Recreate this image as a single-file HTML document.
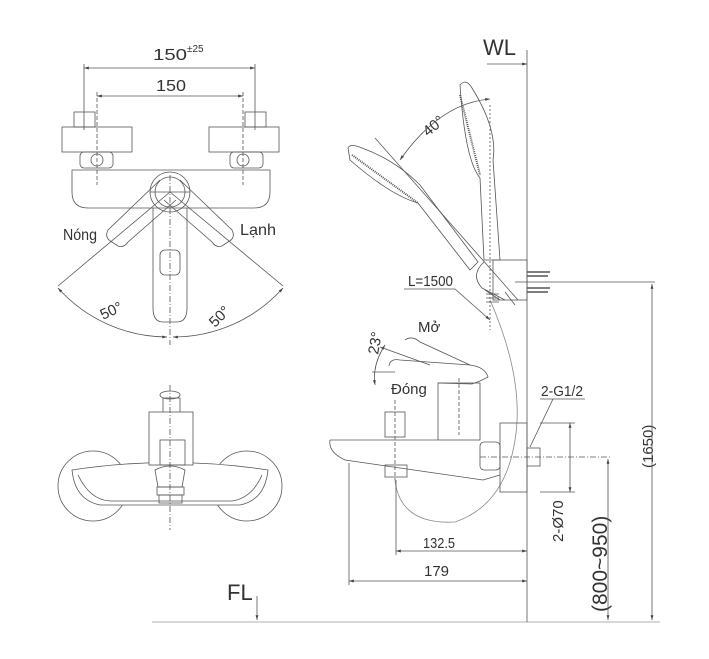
<!DOCTYPE html>
<html><head><meta charset="utf-8"><style>html,body{margin:0;padding:0;background:#fff}svg{display:block}</style></head>
<body>
<svg width="709" height="659" viewBox="0 0 709 659" xmlns="http://www.w3.org/2000/svg" font-family="Liberation Sans, sans-serif" fill="none" stroke="#555" stroke-width="0.8">
<defs><marker id="a" viewBox="0 0 10 10" refX="10" refY="5" markerWidth="8" markerHeight="6" orient="auto-start-reverse"><path d="M0,2 L10,5 L0,8z" fill="#444" stroke="none"/></marker></defs>
<g fill="#333" stroke="none" font-size="16">
<text x="153" y="60" textLength="34" lengthAdjust="spacingAndGlyphs">150</text><text x="187" y="52" font-size="10">±25</text>
<text x="156" y="91" textLength="30" lengthAdjust="spacingAndGlyphs">150</text>
<text x="63" y="240" textLength="34" lengthAdjust="spacingAndGlyphs">Nóng</text>
<text x="240" y="235" textLength="36" lengthAdjust="spacingAndGlyphs">Lạnh</text>
<text x="0" y="0" transform="translate(103,320) rotate(-25)" font-size="15">50°</text>
<text x="0" y="0" transform="translate(215,328) rotate(-45)" font-size="15">50°</text>
<text x="483" y="55" font-size="22">WL</text>
<text x="0" y="0" transform="translate(428,137) rotate(-40)" font-size="15">40°</text>
<text x="408" y="286" textLength="45" lengthAdjust="spacingAndGlyphs" font-size="15">L=1500</text>
<text x="418" y="332" font-size="15">Mở</text>
<text x="0" y="0" transform="translate(378,355) rotate(-80)" font-size="15">23°</text>
<text x="391" y="394" font-size="15">Đóng</text>
<text x="541" y="396" font-size="15" textLength="42" lengthAdjust="spacingAndGlyphs">2-G1/2</text>
<text x="0" y="0" transform="translate(563,542) rotate(-90)" font-size="15">2-Ø70</text>
<text x="0" y="0" transform="translate(607,612) rotate(-90)" font-size="21">(800~950)</text>
<text x="0" y="0" transform="translate(653,468) rotate(-90)" font-size="15">(1650)</text>
<text x="423" y="548" font-size="15" textLength="32" lengthAdjust="spacingAndGlyphs">132.5</text>
<text x="424" y="576" font-size="15">179</text>
<text x="227" y="600" font-size="22">FL</text>
</g>
<line x1="84" y1="68" x2="255" y2="68" marker-start="url(#a)" marker-end="url(#a)"/>
<line x1="84" y1="64" x2="84" y2="130"/><line x1="255" y1="64" x2="255" y2="130"/>
<line x1="97" y1="96" x2="243" y2="96" marker-start="url(#a)" marker-end="url(#a)"/>
<line x1="97" y1="92" x2="97" y2="185" stroke-dasharray="4 2"/><line x1="243" y1="92" x2="243" y2="185" stroke-dasharray="4 2"/>
<rect x="74" y="112" width="21" height="15"/><rect x="62" y="127" width="70" height="25"/><rect x="80" y="152" width="33" height="16" rx="4"/><circle cx="97" cy="160" r="6"/>
<rect x="245" y="112" width="21" height="15"/><rect x="209" y="127" width="70" height="25"/><rect x="230" y="152" width="33" height="16" rx="4"/><circle cx="243" cy="160" r="6"/>
<path d="M72,170 L270,170 L270,192 Q270,208 254,208 L88,208 Q72,208 72,192 Z"/>
<path d="M153,208 L153,308 Q153,322 163,322 L177,322 Q187,322 187,308 L187,208"/>
<rect x="160" y="250" width="20" height="25" rx="5"/>
<circle cx="170" cy="192" r="20"/><circle cx="170" cy="192" r="15"/>
<path d="M160,180 L108,230 Q104,238 112,242 L118,246 Q124,248 128,242 L176,200"/>
<path d="M180,180 L232,230 Q236,238 228,242 L222,246 Q216,248 212,242 L164,200"/>
<line x1="150" y1="192" x2="190" y2="192"/>
<line x1="170" y1="175" x2="170" y2="345" stroke-dasharray="6 2 1 2"/>
<line x1="170" y1="192" x2="58" y2="286" /><line x1="170" y1="192" x2="283" y2="286"/>
<path d="M58,288 A147,147 0 0 0 167,337" marker-start="url(#a)" marker-end="url(#a)"/>
<path d="M173,337 A147,147 0 0 0 283,288" marker-start="url(#a)" marker-end="url(#a)"/>
<circle cx="93" cy="486" r="35"/><circle cx="247" cy="486" r="35"/>
<path d="M72,470 Q170,455 268,470 Q265,500 240,505 L100,505 Q75,500 72,470 Z" fill="#fff"/>
<path d="M78,475 Q90,500 110,501 L232,501 Q252,498 262,475"/>
<rect x="149" y="412" width="44" height="53" fill="#fff"/>
<path d="M163,412 L163,398 L180,398 L180,412"/><ellipse cx="170" cy="395" rx="10" ry="4"/>
<rect x="160" y="440" width="25" height="25"/>
<path d="M155,470 Q170,462 185,470 L182,487 L158,487 Z"/>
<rect x="157" y="487" width="27" height="8"/><rect x="159" y="495" width="23" height="8"/>
<line x1="170" y1="385" x2="170" y2="530" stroke-dasharray="6 2 1 2"/>
<line x1="257" y1="596" x2="257" y2="620" marker-end="url(#a)"/>
<line x1="152" y1="622" x2="660" y2="622" stroke="#999"/>
<line x1="527" y1="50" x2="527" y2="622"/>
<line x1="487" y1="64" x2="527" y2="64" marker-end="url(#a)"/>
<line x1="490" y1="105" x2="490" y2="330" stroke-dasharray="2 2"/>
<path d="M460,85 Q466,78 472,88 Q498,130 493,160 L500,260 L484,260 L480,178 Q465,160 460,85 Z"/>
<path d="M460,95 L480,175" stroke-dasharray="1 1" stroke-width="2"/>
<path d="M348,148 Q350,143 362,148 Q395,160 420,185 L478,262 L470,270 L418,203 Q390,195 350,160 Z"/>
<path d="M352,155 L418,203" stroke-dasharray="1 1" stroke-width="2"/>
<line x1="375" y1="138" x2="518" y2="300"/>
<path d="M490,99 Q440,103 400,160" marker-start="url(#a)" marker-end="url(#a)"/>
<rect x="493" y="260" width="34" height="40"/>
<path d="M484,262 Q470,275 482,288 L505,300"/>
<path d="M485,290 L500,300 M486,294 L499,294 M486,298 L499,298 M486,302 L499,302 M505,292 L515,305"/>
<path d="M527,272 L550,272 M527,276 L548,276 M527,288 L550,288 M527,292 L548,292" stroke-width="1.5"/>
<path d="M404,289 L455,289 L490,320" marker-end="url(#a)"/>
<path d="M490,300 Q525,380 515,440 Q505,505 455,522 Q400,525 395,480" stroke="#888"/>
<path d="M389,366 Q390,358 400,360 L470,365 Q485,367 488,377 L480,381 L472,384 L438,383"/>
<path d="M405,340 Q412,335 420,342 L470,365"/>
<rect x="438" y="383" width="42" height="57"/>
<path d="M330,440 L438,440 M330,440 Q328,452 345,460 L483,480 L500,475"/>
<rect x="480" y="442" width="20" height="28" rx="4"/>
<rect x="385" y="412" width="20" height="25"/><rect x="385" y="465" width="22" height="12"/>
<line x1="395" y1="400" x2="395" y2="480" stroke-dasharray="4 2"/>
<line x1="459" y1="378" x2="459" y2="435" stroke-dasharray="4 2"/>
<rect x="500" y="423" width="27" height="69"/>
<rect x="527" y="448" width="13" height="18"/>
<path d="M540,399 L585,399 M553,399 L530,447" />
<line x1="480" y1="457" x2="612" y2="457" stroke-dasharray="6 2 1 2"/>
<line x1="540" y1="423" x2="575" y2="423"/><line x1="540" y1="492" x2="575" y2="492"/>
<line x1="570" y1="423" x2="570" y2="492" marker-start="url(#a)" marker-end="url(#a)"/>
<line x1="608" y1="459" x2="608" y2="620" marker-start="url(#a)" marker-end="url(#a)"/>
<line x1="652" y1="284" x2="652" y2="620" marker-start="url(#a)" marker-end="url(#a)"/>
<line x1="515" y1="282" x2="655" y2="282"/>
<path d="M385,345 Q372,365 375,385" marker-start="url(#a)" marker-end="url(#a)"/>
<line x1="372" y1="372" x2="395" y2="372"/><line x1="380" y1="347" x2="430" y2="365"/>
<line x1="349" y1="463" x2="349" y2="585"/><line x1="396" y1="480" x2="396" y2="555"/>
<line x1="396" y1="551" x2="527" y2="551" marker-start="url(#a)" marker-end="url(#a)"/>
<line x1="349" y1="581" x2="527" y2="581" marker-start="url(#a)" marker-end="url(#a)"/>
</svg>
</body></html>
